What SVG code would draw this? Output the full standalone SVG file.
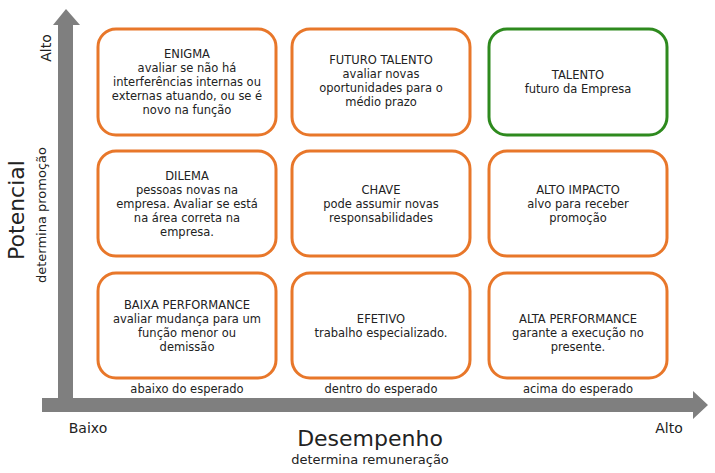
<svg xmlns="http://www.w3.org/2000/svg" width="715" height="473" viewBox="0 0 715 473">
<style>
text{font-family:"DejaVu Sans","Liberation Sans",sans-serif;fill:#222;text-anchor:middle}
.t{font-size:11.5px}
.b{fill:#fff;stroke:#E8772A;stroke-width:3}
.g{fill:#fff;stroke:#2E8A1E;stroke-width:3}
.ax{fill:#7f7f7f}
</style>
<rect width="715" height="473" fill="#fff"/>
<g id="axes">
<polygon class="ax" points="58,412 58,25 53,25 66,9 80,25 73,25 73,398 693,398 693,391 708,405 693,419 693,412 42,412 42,398 58,398"/>
</g>
<g id="n1"><rect class="b" x="98" y="29" width="178" height="106" rx="18"/><text class="t" x="187" y="58">ENIGMA<tspan x="187" dy="14">avaliar se não há</tspan><tspan x="187" dy="14">interferências internas ou</tspan><tspan x="187" dy="14">externas atuando, ou se é</tspan><tspan x="187" dy="14">novo na função</tspan></text></g>
<g id="n2"><rect class="b" x="292" y="29" width="178" height="106" rx="18"/><text class="t" x="381" y="64">FUTURO TALENTO<tspan x="381" dy="14">avaliar novas</tspan><tspan x="381" dy="14">oportunidades para o</tspan><tspan x="381" dy="14">médio prazo</tspan></text></g>
<g id="n3"><rect class="g" x="489" y="29" width="178" height="106" rx="18"/><text class="t" x="578" y="79">TALENTO<tspan x="578" dy="14">futuro da Empresa</tspan></text></g>
<g id="n4"><rect class="b" x="98" y="151" width="178" height="105" rx="18"/><text class="t" x="187" y="180">DILEMA<tspan x="187" dy="14">pessoas novas na</tspan><tspan x="187" dy="14">empresa. Avaliar se está</tspan><tspan x="187" dy="14">na área correta na</tspan><tspan x="187" dy="14">empresa.</tspan></text></g>
<g id="n5"><rect class="b" x="292" y="151" width="178" height="105" rx="18"/><text class="t" x="381" y="194">CHAVE<tspan x="381" dy="14">pode assumir novas</tspan><tspan x="381" dy="14">responsabilidades</tspan></text></g>
<g id="n6"><rect class="b" x="489" y="151" width="178" height="105" rx="18"/><text class="t" x="578" y="194">ALTO IMPACTO<tspan x="578" dy="14">alvo para receber</tspan><tspan x="578" dy="14">promoção</tspan></text></g>
<g id="n7"><rect class="b" x="98" y="273" width="178" height="105" rx="18"/><text class="t" x="187" y="309">BAIXA PERFORMANCE<tspan x="187" dy="14">avaliar mudança para um</tspan><tspan x="187" dy="14">função menor ou</tspan><tspan x="187" dy="14">demissão</tspan></text></g>
<g id="n8"><rect class="b" x="292" y="273" width="178" height="105" rx="18"/><text class="t" x="381" y="323">EFETIVO<tspan x="381" dy="14">trabalho especializado.</tspan></text></g>
<g id="n9"><rect class="b" x="489" y="273" width="178" height="105" rx="18"/><text class="t" x="578" y="323">ALTA PERFORMANCE<tspan x="578" dy="14">garante a execução no</tspan><tspan x="578" dy="14">presente.</tspan></text></g>
<g id="labels">
<text class="t" x="187" y="393">abaixo do esperado</text>
<text class="t" x="381" y="393">dentro do esperado</text>
<text class="t" x="578" y="393">acima do esperado</text>
<text x="88" y="433" font-size="14">Baixo</text>
<text x="669" y="433" font-size="14">Alto</text>
<text x="370" y="446" font-size="22" fill="#333">Desempenho</text>
<text x="370" y="464" font-size="13" fill="#333">determina remuneração</text>
<text transform="translate(51,48) rotate(-90)" font-size="14">Alto</text>
<text transform="translate(24,210) rotate(-90)" font-size="22" fill="#333">Potencial</text>
<text transform="translate(46,215) rotate(-90)" font-size="13" fill="#333">determina promoção</text>
</g>
</svg>
